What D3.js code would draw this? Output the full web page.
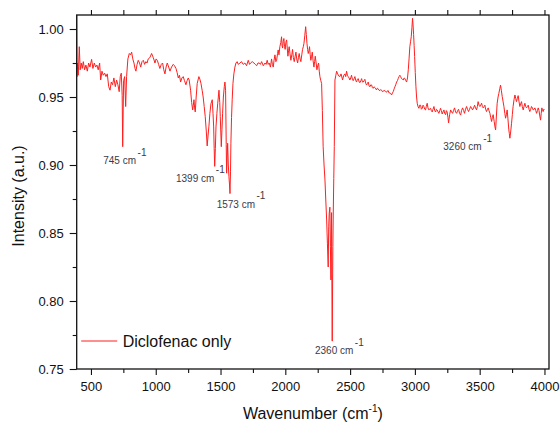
<!DOCTYPE html>
<html>
<head>
<meta charset="utf-8">
<script src="https://cdn.jsdelivr.net/npm/d3@7"></script>
<style>
  html, body { margin: 0; padding: 0; background: #fff; }
  svg { display: block; }
  text { font-family: "Liberation Sans", Arial, sans-serif; }
</style>
</head>
<body>
<div id="chart"></div>
<script>
// ---- data ----
const wavenumber = [
390,392,394,402,410,417,425,433,441,451,461,472,482,492,505,515,526,536,546,556,567,575,585,595,606,616,626,637,647,657,667,677,688,698,708,718,726,734,741,745,752,760,768,775,785,796,805,814,823,832,840,847,856,865,875,884,894,904,914,924,933,942,955,968,981,994,1003,1012,1022,1032,1043,1053,1062,1071,1080,1089,1100,1110,1122,1135,1145,1156,1165,1174,1183,1192,1202,1212,1222,1233,1242,1251,1258,1269,1277,1285,1290,1295,1300,1305,1312,1320,1333,1341,1349,1358,1366,1374,1382,1390,1397,1404,1410,1418,1426,1436,1442,1447,1451,1455,1460,1465,1472,1478,1488,1494,1498,1506,1511,1516,1522,1529,1534,1539,1544,1547,1551,1555,1560,1565,1569,1573,1577,1580,1585,1590,1596,1603,1611,1619,1628,1637,1650,1662,1675,1688,1701,1714,1724,1732,1745,1758,1768,1779,1789,1799,1808,1817,1830,1843,1852,1860,1868,1876,1885,1894,1900,1907,1913,1920,1927,1933,1940,1945,1951,1958,1965,1971,1975,1979,1984,1989,1994,1999,2004,2010,2015,2020,2025,2030,2036,2043,2050,2056,2062,2069,2076,2082,2088,2095,2101,2107,2114,2120,2127,2133,2139,2144,2150,2157,2162,2167,2172,2177,2182,2187,2192,2197,2203,2208,2214,2221,2226,2231,2238,2244,2250,2257,2262,2267,2274,2280,2286,2292,2299,2306,2312,2319,2325,2331,2335,2339,2344,2348,2352,2355,2357,2359,2362,2364,2367,2370,2374,2378,2383,2390,2396,2404,2412,2421,2430,2442,2451,2460,2466,2473,2479,2485,2492,2498,2505,2511,2518,2524,2531,2537,2544,2550,2556,2563,2570,2576,2583,2589,2595,2601,2608,2614,2621,2627,2634,2640,2647,2653,2660,2666,2672,2678,2685,2691,2698,2704,2710,2717,2723,2730,2736,2743,2749,2755,2762,2768,2775,2781,2788,2794,2800,2807,2814,2820,2827,2833,2840,2846,2852,2859,2865,2871,2878,2884,2890,2897,2904,2910,2917,2923,2930,2936,2943,2949,2955,2961,2967,2972,2977,2982,2986,2990,2994,2998,3003,3008,3013,3018,3024,3031,3037,3044,3050,3057,3063,3069,3076,3082,3088,3095,3101,3108,3114,3121,3127,3134,3140,3147,3153,3160,3166,3172,3179,3185,3192,3198,3204,3211,3217,3224,3230,3237,3243,3249,3255,3260,3268,3276,3283,3291,3298,3306,3314,3322,3330,3337,3345,3353,3360,3368,3376,3383,3391,3399,3406,3414,3422,3430,3437,3445,3453,3461,3468,3476,3482,3488,3495,3502,3508,3515,3521,3527,3534,3540,3546,3553,3560,3566,3572,3579,3585,3592,3598,3604,3612,3618,3623,3629,3635,3642,3648,3655,3661,3667,3674,3680,3687,3694,3700,3706,3712,3718,3725,3729,3733,3740,3746,3752,3758,3765,3772,3778,3784,3791,3797,3803,3810,3816,3823,3829,3836,3842,3849,3855,3862,3868,3875,3881,3887,3894,3900,3907,3913,3920,3926,3933,3939,3946,3952,3958,3964,3970,3975,3980,3985,3990,3995,4000
];
const intensity = [
1.02,0.965,0.975,0.966,0.987,0.970,0.975,0.971,0.976,0.970,0.9735,0.969,0.975,0.972,0.9777,0.971,0.975,0.972,0.9735,0.970,0.975,0.9625,0.969,0.966,0.9675,0.965,0.967,0.9576,0.955,0.961,0.959,0.964,0.9576,0.9625,0.959,0.9539,0.965,0.9675,0.951,0.9135,0.962,0.965,0.943,0.965,0.978,0.982,0.981,0.983,0.978,0.975,0.971,0.969,0.974,0.977,0.975,0.972,0.976,0.977,0.974,0.976,0.975,0.978,0.979,0.982,0.979,0.975,0.978,0.977,0.974,0.971,0.974,0.975,0.970,0.967,0.972,0.975,0.972,0.969,0.972,0.974,0.973,0.971,0.968,0.964,0.966,0.961,0.964,0.965,0.962,0.959,0.962,0.964,0.9625,0.955,0.946,0.9405,0.944,0.948,0.942,0.939,0.950,0.960,0.965,0.963,0.960,0.955,0.950,0.943,0.9355,0.925,0.914,0.922,0.928,0.938,0.945,0.948,0.938,0.928,0.912,0.899,0.912,0.928,0.938,0.945,0.955,0.946,0.9355,0.9135,0.926,0.938,0.950,0.9576,0.961,0.955,0.915,0.894,0.905,0.916,0.900,0.8914,0.886,0.879,0.895,0.916,0.935,0.948,0.960,0.967,0.972,0.975,0.976,0.974,0.975,0.976,0.974,0.975,0.973,0.977,0.974,0.975,0.976,0.975,0.974,0.973,0.975,0.975,0.974,0.976,0.973,0.975,0.974,0.977,0.974,0.975,0.972,0.978,0.974,0.972,0.977,0.981,0.976,0.977,0.982,0.9846,0.981,0.987,0.990,0.9943,0.988,0.986,0.991,0.993,0.987,0.985,0.990,0.992,0.986,0.980,0.984,0.987,0.982,0.977,0.981,0.985,0.979,0.976,0.980,0.983,0.978,0.975,0.979,0.982,0.978,0.976,0.981,0.985,0.987,0.9895,0.995,1.0017,0.996,0.9895,0.985,0.982,0.984,0.987,0.981,0.977,0.980,0.983,0.977,0.972,0.976,0.980,0.975,0.970,0.973,0.975,0.969,0.965,0.962,0.960,0.940,0.9135,0.900,0.889,0.875,0.8596,0.842,0.825,0.855,0.8647,0.869,0.840,0.8155,0.850,0.865,0.820,0.7705,0.800,0.840,0.8647,0.890,0.9135,0.9625,0.966,0.969,0.967,0.9655,0.965,0.967,0.9625,0.966,0.967,0.965,0.969,0.966,0.965,0.964,0.9625,0.964,0.966,0.963,0.962,0.9635,0.965,0.962,0.961,0.963,0.9635,0.961,0.9605,0.962,0.9635,0.961,0.961,0.962,0.963,0.960,0.9588,0.960,0.961,0.958,0.9575,0.959,0.9588,0.957,0.9564,0.9575,0.957,0.956,0.9552,0.9565,0.956,0.955,0.9547,0.9555,0.955,0.954,0.954,0.955,0.9545,0.954,0.9535,0.9545,0.9547,0.953,0.953,0.9525,0.9515,0.953,0.954,0.956,0.9575,0.959,0.961,0.962,0.9635,0.965,0.966,0.965,0.9635,0.963,0.9625,0.964,0.9635,0.962,0.961,0.964,0.970,0.978,0.987,0.991,0.9943,1.001,1.0079,1.003,0.996,0.988,0.9797,0.968,0.9576,0.950,0.9454,0.943,0.9417,0.944,0.944,0.941,0.9417,0.944,0.943,0.941,0.9405,0.943,0.9454,0.942,0.9405,0.941,0.9417,0.940,0.939,0.941,0.943,0.940,0.939,0.941,0.9405,0.939,0.938,0.940,0.9417,0.940,0.9375,0.939,0.9405,0.938,0.937,0.940,0.939,0.935,0.931,0.937,0.9405,0.939,0.938,0.940,0.942,0.939,0.938,0.940,0.941,0.938,0.9367,0.940,0.942,0.940,0.938,0.941,0.943,0.941,0.9393,0.941,0.943,0.942,0.9405,0.942,0.944,0.942,0.9405,0.943,0.9466,0.944,0.943,0.944,0.9454,0.943,0.942,0.943,0.944,0.941,0.9393,0.941,0.942,0.940,0.938,0.935,0.932,0.935,0.937,0.932,0.928,0.9258,0.936,0.9454,0.950,0.9527,0.956,0.9588,0.955,0.9503,0.947,0.943,0.938,0.9344,0.937,0.9405,0.934,0.9258,0.923,0.9197,0.925,0.9307,0.937,0.943,0.948,0.9515,0.949,0.9466,0.949,0.951,0.947,0.943,0.945,0.9466,0.943,0.9405,0.943,0.9454,0.943,0.942,0.943,0.944,0.941,0.9393,0.941,0.943,0.942,0.9405,0.941,0.942,0.940,0.938,0.940,0.942,0.940,0.936,0.933,0.938,0.942,0.940,0.9393,0.941,0.9405
];
const seriesName = "Diclofenac only";
const xMajorTicks = [500, 1000, 1500, 2000, 2500, 3000, 3500, 4000];
const xMinorTicks = [750, 1250, 1750, 2250, 2750, 3250, 3750];
const yMajorTicks = [0.75, 0.80, 0.85, 0.90, 0.95, 1.00];
const yMinorTicks = [0.775, 0.825, 0.875, 0.925, 0.975];
// annotation: peak label, text anchor (wavenumber, intensity)
const peakLabels = ["745", "1399", "1573", "2360", "3260"];
const peakLabelWn = [595, 1156, 1470, 2229, 3219];
const peakLabelY = [0.9007, 0.8877, 0.8684, 0.761, 0.911];

// ---- layout ----
const W = 560, H = 424;
const L = 76.7, R = 549, T = 15, B = 369;

const svg = d3.select("#chart").append("svg").attr("width", W).attr("height", H);

const x = d3.scaleLinear().domain([390, 4035]).range([L, R]);
const y = d3.scaleLinear().domain([0.75, 1.0103]).range([B, T]);

svg.append("defs").append("clipPath").attr("id", "clip")
  .append("rect").attr("x", L).attr("y", T).attr("width", R - L).attr("height", B - T);

// spectrum
const pts = wavenumber.map((w, i) => [w, intensity[i]]);
const line = d3.line().x(d => x(d[0])).y(d => y(d[1]));
svg.append("path")
  .datum(pts)
  .attr("clip-path", "url(#clip)")
  .attr("fill", "none")
  .attr("stroke", "#ff1f1f")
  .attr("stroke-width", 1)
  .attr("stroke-linejoin", "round")
  .attr("d", line);

// axes
function styleAxis(g) {
  g.select(".domain").remove();
  g.selectAll("line").attr("stroke", "#111").attr("stroke-width", 1.1);
  g.selectAll("text").attr("fill", "#111").style("font-size", "13px")
    .style("font-family", '"Liberation Sans", Arial, sans-serif');
}
svg.append("g").attr("transform", `translate(0,${B})`)
  .call(d3.axisBottom(x).tickValues(xMajorTicks).tickSize(6).tickPadding(7).tickFormat(d3.format("d")))
  .call(styleAxis);
svg.append("g").attr("transform", `translate(0,${B})`)
  .call(d3.axisBottom(x).tickValues(xMinorTicks).tickSize(4).tickFormat(""))
  .call(styleAxis);
svg.append("g").attr("transform", `translate(0,${T})`)
  .call(d3.axisTop(x).tickValues(xMajorTicks).tickSize(5).tickFormat(""))
  .call(styleAxis);
svg.append("g").attr("transform", `translate(0,${T})`)
  .call(d3.axisTop(x).tickValues(xMinorTicks).tickSize(5).tickFormat(""))
  .call(styleAxis);
svg.append("g").attr("transform", `translate(${L},0)`)
  .call(d3.axisLeft(y).tickValues(yMajorTicks).tickSize(7).tickPadding(6).tickFormat(d3.format(".2f")))
  .call(styleAxis);
svg.append("g").attr("transform", `translate(${L},0)`)
  .call(d3.axisLeft(y).tickValues(yMinorTicks).tickSize(4).tickFormat(""))
  .call(styleAxis);

// frame
svg.append("rect").attr("x", L).attr("y", T).attr("width", R - L).attr("height", B - T)
  .attr("fill", "none").attr("stroke", "#111").attr("stroke-width", 1.3);

// axis titles
const xt = svg.append("text").attr("x", (L + R) / 2).attr("y", 419)
  .attr("text-anchor", "middle").attr("fill", "#111").style("font-size", "16px");
xt.append("tspan").text("Wavenumber (cm");
xt.append("tspan").attr("dy", -7).style("font-size", "10px").text("-1");
xt.append("tspan").attr("dy", 7).text(")");

svg.append("text").attr("transform", `translate(24,196) rotate(-90)`)
  .attr("text-anchor", "middle").attr("fill", "#111").style("font-size", "16px")
  .text("Intensity (a.u.)");

// peak annotations
peakLabels.forEach((lab, i) => {
  const t = svg.append("text").attr("x", x(peakLabelWn[i])).attr("y", y(peakLabelY[i]))
    .attr("fill", "#3a3a4a").style("font-size", "10px");
  t.append("tspan").text(lab + " cm");
  t.append("tspan").attr("dx", 1.5).attr("dy", -8.5).text("-1");
});

// legend
const lg = svg.append("g");
lg.append("line").attr("x1", L + 4.5).attr("x2", L + 40.5).attr("y1", 341).attr("y2", 341)
  .attr("stroke", "#ff1f1f").attr("stroke-width", 1);
lg.append("text").attr("x", L + 46).attr("y", 346.5).attr("fill", "#111")
  .style("font-size", "16px").text(seriesName);
</script>
</body>
</html>
